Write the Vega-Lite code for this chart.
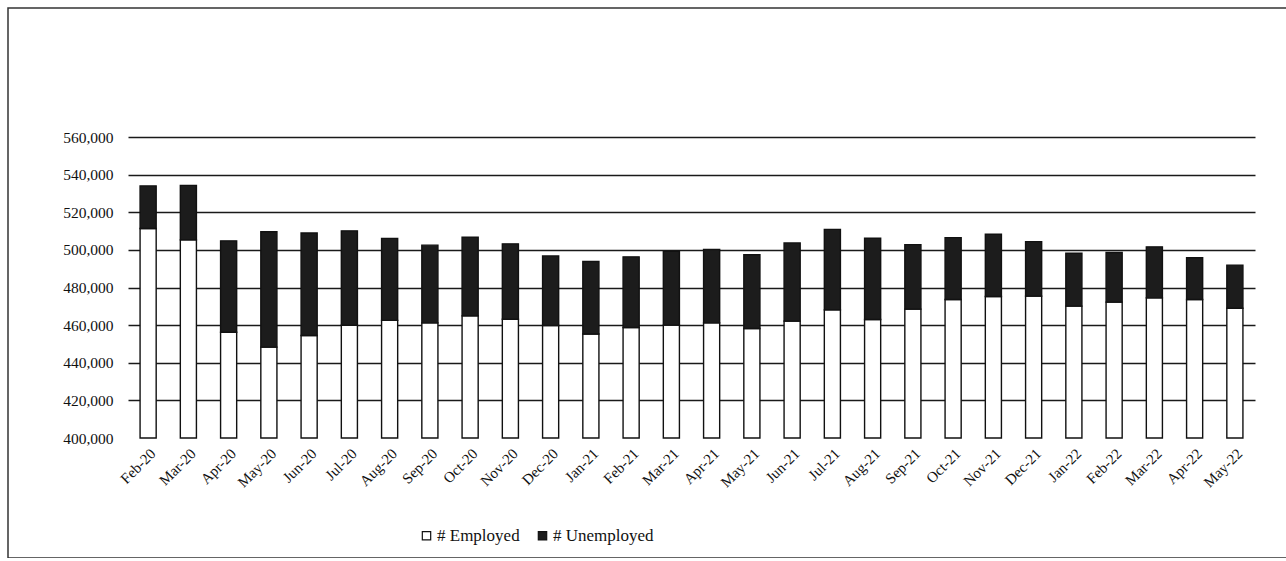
{
  "$schema": "https://vega.github.io/schema/vega-lite/v6.json",
  "width": 1282,
  "height": 550,
  "autosize": {"type": "none"},
  "padding": {"left": 8, "top": 8, "right": 0, "bottom": 0},
  "background": "white",
  "config": {
    "font": "Liberation Serif",
    "view": {"stroke": "#333333", "strokeWidth": 1.5},
    "axis": {"labelFont": "Liberation Serif", "labelColor": "#111111", "domain": false, "ticks": false, "title": null},
    "legend": {"labelFont": "Liberation Serif"}
  },
  "data": {
    "values": [
      {"month": "Feb-20", "employed": 511400, "total": 534000},
      {"month": "Mar-20", "employed": 505300, "total": 534300},
      {"month": "Apr-20", "employed": 456200, "total": 504800},
      {"month": "May-20", "employed": 448300, "total": 509600},
      {"month": "Jun-20", "employed": 454500, "total": 509000},
      {"month": "Jul-20", "employed": 459900, "total": 510100},
      {"month": "Aug-20", "employed": 462500, "total": 506100},
      {"month": "Sep-20", "employed": 461200, "total": 502500},
      {"month": "Oct-20", "employed": 464900, "total": 506800},
      {"month": "Nov-20", "employed": 463100, "total": 503200},
      {"month": "Dec-20", "employed": 459800, "total": 496800},
      {"month": "Jan-21", "employed": 455300, "total": 493800},
      {"month": "Feb-21", "employed": 458700, "total": 496300},
      {"month": "Mar-21", "employed": 460000, "total": 499300},
      {"month": "Apr-21", "employed": 461200, "total": 500200},
      {"month": "May-21", "employed": 458200, "total": 497400},
      {"month": "Jun-21", "employed": 462100, "total": 503700},
      {"month": "Jul-21", "employed": 468100, "total": 510900},
      {"month": "Aug-21", "employed": 463000, "total": 506200},
      {"month": "Sep-21", "employed": 468500, "total": 502800},
      {"month": "Oct-21", "employed": 473600, "total": 506500},
      {"month": "Nov-21", "employed": 475200, "total": 508300},
      {"month": "Dec-21", "employed": 475400, "total": 504400},
      {"month": "Jan-22", "employed": 470100, "total": 498200},
      {"month": "Feb-22", "employed": 472200, "total": 498600},
      {"month": "Mar-22", "employed": 474500, "total": 501600},
      {"month": "Apr-22", "employed": 473600, "total": 495800},
      {"month": "May-22", "employed": 469000, "total": 491900}
    ]
  },
  "encoding": {
    "x": {
      "field": "month",
      "type": "nominal",
      "sort": null,
      "scale": {"range": [120, 1247], "paddingInner": 0.6, "paddingOuter": 0.3},
      "axis": {
        "labelAngle": -45,
        "labelAlign": "right",
        "labelBaseline": "top",
        "labelFontSize": 15,
        "labelPadding": 8,
        "offset": -120.3,
        "grid": false
      }
    }
  },
  "layer": [
    {
      "mark": {"type": "bar", "stroke": "#111111", "strokeWidth": 1.4},
      "encoding": {
        "y": {
          "field": "employed",
          "type": "quantitative",
          "scale": {"domain": [400000, 560000], "range": [430, 129], "zero": false, "nice": false},
          "axis": {
            "values": [400000, 420000, 440000, 460000, 480000, 500000, 520000, 540000, 560000],
            "format": ",d",
            "labelFontSize": 15.5,
            "labelPadding": 15,
            "offset": -120,
            "grid": true,
            "gridColor": "#1a1a1a",
            "gridWidth": 1.5,
            "gridOpacity": {"condition": {"test": "datum.value == 400000", "value": 0}, "value": 1}
          }
        },
        "y2": {"datum": 400000},
        "color": {
          "datum": "# Employed",
          "scale": {"domain": ["# Employed", "# Unemployed"], "range": ["#ffffff", "#1c1c1c"]},
          "legend": {
            "title": null,
            "orient": "none",
            "direction": "horizontal",
            "legendX": 410,
            "legendY": 519,
            "symbolType": "square",
            "symbolSize": 70,
            "symbolStrokeColor": "#111111",
            "symbolStrokeWidth": 1.2,
            "symbolOpacity": 1,
            "labelFontSize": 17,
            "labelColor": "#111111",
            "labelOffset": 2,
            "columnPadding": 14,
            "padding": 0
          }
        }
      }
    },
    {
      "mark": {"type": "bar", "stroke": "#111111", "strokeWidth": 1.4},
      "encoding": {
        "y": {"field": "total", "type": "quantitative"},
        "y2": {"field": "employed"},
        "color": {"datum": "# Unemployed"}
      }
    }
  ]
}
